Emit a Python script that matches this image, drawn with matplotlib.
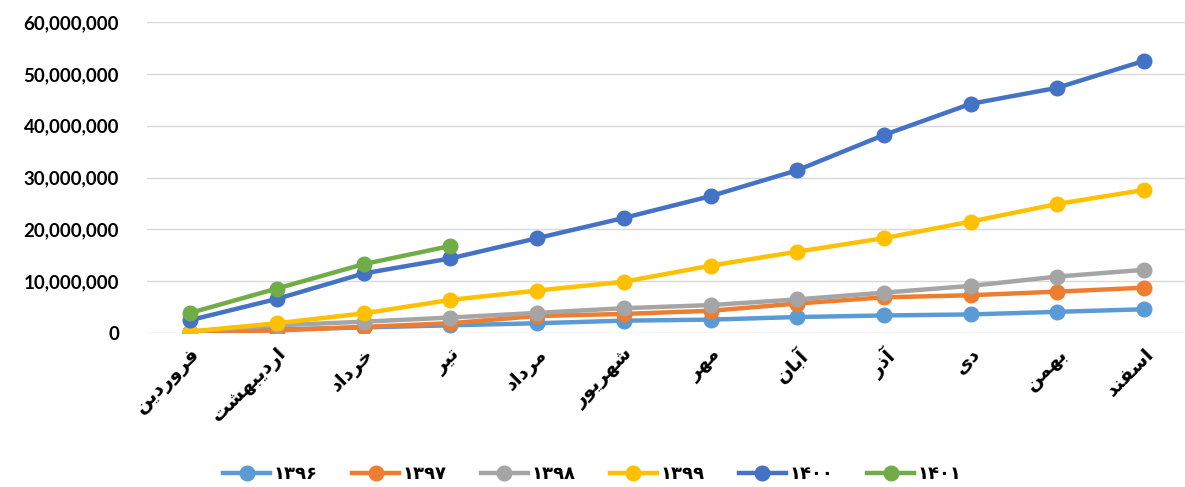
import matplotlib
matplotlib.use("Agg")
import matplotlib.pyplot as plt
from matplotlib.ticker import FuncFormatter

months = ["فروردین", "اردیبهشت", "خرداد", "تیر", "مرداد", "شهریور",
          "مهر", "آبان", "آذر", "دی", "بهمن", "اسفند"]
years = ["۱۳۹۶", "۱۳۹۷", "۱۳۹۸", "۱۳۹۹", "۱۴۰۰", "۱۴۰۱"]
colors = ["#5B9BD5", "#ED7D31", "#A5A5A5", "#FFC000", "#4472C4", "#70AD47"]

# values in rials
s1396 = [300e3, 700e3, 1.1e6, 1.5e6, 1.9e6, 2.4e6, 2.6e6, 3.1e6, 3.4e6, 3.6e6, 4.1e6, 4.6e6]
s1397 = [200e3, 500e3, 1.2e6, 1.9e6, 3.3e6, 3.7e6, 4.3e6, 5.7e6, 6.9e6, 7.3e6, 8.0e6, 8.75e6]
s1398 = [300e3, 1.5e6, 2.2e6, 3.0e6, 3.9e6, 4.8e6, 5.4e6, 6.5e6, 7.8e6, 9.1e6, 10.9e6, 12.2e6]
s1399 = [300e3, 1.9e6, 3.8e6, 6.4e6, 8.2e6, 9.9e6, 13.0e6, 15.7e6, 18.3e6, 21.5e6, 24.9e6, 27.6e6]
s1400 = [2.5e6, 6.6e6, 11.5e6, 14.4e6, 18.3e6, 22.2e6, 26.4e6, 31.4e6, 38.2e6, 44.2e6, 47.3e6, 52.5e6]
s1401 = [3.9e6, 8.6e6, 13.3e6, 16.8e6]
series = [s1396, s1397, s1398, s1399, s1400, s1401]

# minimal arabic shaping, matplotlib draws glyphs left to right with no joining
forms = {
    "ا": ("\uFE8D", "\uFE8E", None, None),
    "آ": ("\uFE81", "\uFE82", None, None),
    "د": ("\uFEA9", "\uFEAA", None, None),
    "ذ": ("\uFEAB", "\uFEAC", None, None),
    "ر": ("\uFEAD", "\uFEAE", None, None),
    "و": ("\uFEED", "\uFEEE", None, None),
    "ب": ("\uFE8F", "\uFE90", "\uFE91", "\uFE92"),
    "ت": ("\uFE95", "\uFE96", "\uFE97", "\uFE98"),
    "خ": ("\uFEA5", "\uFEA6", "\uFEA7", "\uFEA8"),
    "س": ("\uFEB1", "\uFEB2", "\uFEB3", "\uFEB4"),
    "ش": ("\uFEB5", "\uFEB6", "\uFEB7", "\uFEB8"),
    "ف": ("\uFED1", "\uFED2", "\uFED3", "\uFED4"),
    "م": ("\uFEE1", "\uFEE2", "\uFEE3", "\uFEE4"),
    "ن": ("\uFEE5", "\uFEE6", "\uFEE7", "\uFEE8"),
    "ه": ("\uFEE9", "\uFEEA", "\uFEEB", "\uFEEC"),
    "ی": ("\uFEEF", "\uFEF0", "\uFEF3", "\uFEF4"),
}

def shape(word):
    out = []
    for i, ch in enumerate(word):
        f = forms[ch]
        prev_joins = i > 0 and forms[word[i - 1]][2] is not None
        next_joins = i < len(word) - 1 and f[2] is not None
        if prev_joins and next_joins:
            out.append(f[3])
        elif prev_joins:
            out.append(f[1])
        elif next_joins:
            out.append(f[2])
        else:
            out.append(f[0])
    return "".join(out[::-1])

fig = plt.figure(figsize=(11.85, 4.87), dpi=100)
ax = fig.add_axes([0.124, 0.316, 0.878, 0.639])

for vals, name, c in zip(series, years, colors):
    ax.plot(range(len(vals)), vals, color=c, lw=3.2, marker="o", ms=10.5, label=name)

ax.set_xlim(-0.5, 11.5)
ax.set_ylim(0, 60e6)
ax.set_yticks(range(0, 60000001, 10000000))
ax.yaxis.set_major_formatter(FuncFormatter(lambda v, p: f"{v:,.0f}"))
ax.grid(axis="y", color="#D9D9D9", lw=1)
ax.set_axisbelow(True)
for sp in ax.spines.values():
    sp.set_visible(False)
ax.tick_params(length=0)
ax.tick_params(axis="y", pad=20)
for t in ax.get_yticklabels():
    t.set_fontfamily("Lato")
    t.set_fontweight("bold")
    t.set_fontsize(13.5)

ax.set_xticks(range(12))
ax.set_xticklabels([shape(m) for m in months], rotation=45, ha="right", va="top",
                   rotation_mode="anchor", fontsize=14, fontweight="bold",
                   family="DejaVu Sans")
ax.tick_params(axis="x", pad=8)

leg = fig.legend(loc="lower center", bbox_to_anchor=(0.5, -0.025), ncol=6, frameon=False,
                 handlelength=2.6, columnspacing=1.9, handletextpad=0.2,
                 prop={"family": "DejaVu Sans", "size": 13, "weight": "bold"})

fig.savefig("out.png", dpi=100)
